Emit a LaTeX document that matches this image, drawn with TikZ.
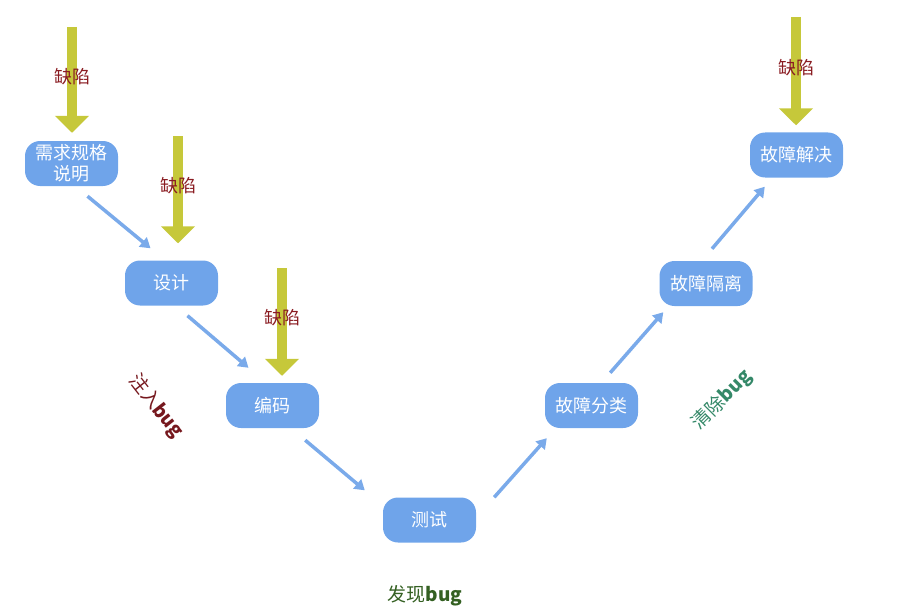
\documentclass[tikz,border=0pt]{standalone}
\usepackage{fontspec}
\newfontfamily\cjk{Noto Sans CJK SC}
\usetikzlibrary{arrows.meta}
\definecolor{boxblue}{RGB}{111,164,234}
\definecolor{flowblue}{RGB}{122,170,234}
\definecolor{defectyel}{RGB}{198,200,58}
\definecolor{defectred}{RGB}{138,28,34}
\definecolor{injectred}{RGB}{118,24,30}
\definecolor{cleargreen}{RGB}{52,136,104}
\definecolor{findgreen}{RGB}{52,96,34}

\begin{document}
\begin{tikzpicture}[
			x=1pt, y=-1pt,
			stage/.style={rectangle, rounded corners=15pt, fill=boxblue, text=white, minimum width=93pt, minimum height=45pt, inner sep=2pt, align=center, font=\cjk\fontsize{18}{21}\selectfont},
			defect/.style={line width=10pt, draw=defectyel, -{Triangle[width=33pt,length=17pt]}},
			flow/.style={line width=3.5pt, draw=flowblue, -{Triangle[width=12pt,length=10pt]}},
			lbl/.style={font=\cjk\fontsize{18}{20}\selectfont, text=defectred, inner sep=0pt},
			tag/.style={font=\cjk\fontsize{19}{21}\selectfont, inner sep=0pt}
			]
			\useasboundingbox (0,0) rectangle (906,610);
			% --- стадии ---
			\node[stage] (req) at (71.5,163.5) {需求规格\\说明};
			\node[stage] (des) at (171.5,283) {设计};
			\node[stage] (code) at (272.5,405.5) {编码};
			\node[stage] (test) at (429.5,520) {测试};
			\node[stage] (cls) at (591.5,405.5) {故障分类};
			\node[stage] (iso) at (706,283.5) {故障隔离};
			\node[stage] (sol) at (796.5,155) {故障解决};
			% --- переходы ---
			\draw[flow] ([xshift=16pt,yshift=-10pt]req.south) -- ([xshift=-21pt,yshift=12pt]des.north);
			\draw[flow] ([xshift=16pt,yshift=-10pt]des.south) -- ([xshift=-24pt,yshift=15pt]code.north);
			\draw[flow] ([xshift=-14pt,yshift=-12pt]code.south east) -- ([xshift=-18pt,yshift=7pt]test.north west);
			\draw[flow] ([xshift=18pt,yshift=0pt]test.north east) -- ([xshift=2pt,yshift=-10pt]cls.south west);
			\draw[flow] ([xshift=-28pt,yshift=10pt]cls.north east) -- ([xshift=4pt,yshift=-6pt]iso.south west);
			\draw[flow] ([xshift=6pt,yshift=12pt]iso.north) -- ([xshift=15pt,yshift=-9pt]sol.south west);
			% --- дефекты ---
			\coordinate (t1) at (72,27);
			\coordinate (t2) at (178,136);
			\coordinate (t3) at (282,268);
			\coordinate (t4) at (796,17);
			\draw[defect, shorten >=8pt] (t1) -- (t1 |- req.north);
			\draw[defect, shorten >=17pt] (t2) -- (t2 |- des.north);
			\draw[defect, shorten >=7pt] (t3) -- (t3 |- code.north);
			\draw[defect, shorten >=7pt] (t4) -- (t4 |- sol.north);
			\node[lbl] (l1) at (72,77) {缺陷};
			\node[lbl] (l2) at (178,186) {缺陷};
			\node[lbl] (l3) at (282,318) {缺陷};
			\node[lbl] (l4) at (796,68) {缺陷};
			% --- подписи ---
			\node[tag, text=injectred, rotate=-52] (inj) at (156,406) {注入\textbf{bug}};
			\node[tag, text=cleargreen, rotate=45] (clr) at (722,400) {清除\textbf{bug}};
			\node[tag, text=findgreen] (fnd) at (425,596) {发现\textbf{bug}};
		\end{tikzpicture}
\end{document}
